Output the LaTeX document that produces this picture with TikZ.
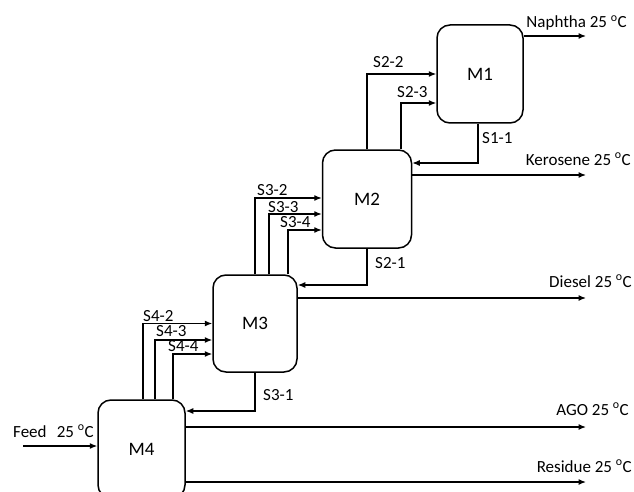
\documentclass[tikz,border=0pt]{standalone}
\usepackage{fontspec}
\setmainfont{Carlito}
\usetikzlibrary{positioning,arrows.meta,calc}
\tikzset{
  unit/.style={draw,line width=1.5pt,rounded corners=13pt,minimum width=86pt,
    minimum height=98pt,inner sep=0pt,font=\fontsize{19}{21}\selectfont},
  stream/.style={line width=1.25pt,-{Latex[length=7.5pt,width=6pt]}},
  lbl/.style={inner sep=0pt,anchor=base west,font=\fontsize{17}{19}\selectfont},
  prod/.style={inner sep=0pt,anchor=base east,font=\fontsize{17}{19}\selectfont},
}
\newcommand{\degc}{25 \textsuperscript{o}C}

\begin{document}
\begin{tikzpicture}[x=1pt,y=-1pt]
\useasboundingbox (0,0) rectangle (634,492);
\clip (0,0) rectangle (634,492);
% units
\node[unit] (M1) at (480,74) {M1};
\node[unit,minimum width=89pt] (M2) at (367,199) {M2};
\node[unit,minimum width=84pt,minimum height=97pt] (M3) at (255,323.5) {M3};
\node[unit,minimum width=87pt] (M4) at (141.5,449) {M4};
\coordinate (rgt) at (586,0);
\coordinate (feed) at (23,446);
% M1
\draw[stream] ([yshift=38pt]M1.east) coordinate (p1) -- (p1 -| rgt);
\node[prod] (lNaph) at (627,28) {Naphtha \degc};
\draw[stream] ([xshift=-2pt]M1.south) |- ([yshift=36pt]M2.east);
\node[lbl] (lS11) at (482,143) {S1-1};
% M2
\draw[stream] (M2.north) |- (M1.west);
\node[lbl] (lS22) at (373,68) {S2-2};
\draw[stream] ([xshift=34pt]M2.north) |- ([yshift=-29pt]M1.west);
\node[lbl] (lS23) at (397,98) {S2-3};
\draw[stream] ([yshift=24pt]M2.east) coordinate (p2) -- (p2 -| rgt);
\node[prod] (lKero) at (631,165) {Kerosene \degc};
\draw[stream] (M2.south) |- ([yshift=38.5pt]M3.east);
\node[lbl] (lS21) at (375,268) {S2-1};
% M3
\draw[stream] (M3.north) |- ([yshift=1pt]M2.west);
\node[lbl] (lS32) at (257,195) {S3-2};
\draw[stream] ([xshift=14pt]M3.north) |- ([yshift=-15pt]M2.west);
\node[lbl] (lS33) at (268,212) {S3-3};
\draw[stream] ([xshift=33pt]M3.north) |- ([yshift=-31pt]M2.west);
\node[lbl] (lS34) at (280,227) {S3-4};
\draw[stream] ([yshift=25.5pt]M3.east) coordinate (p3) -- (p3 -| rgt);
\node[prod] (lDies) at (632,287) {Diesel \degc};
\draw[stream] (M3.south) |- ([yshift=38pt]M4.east);
\node[lbl] (lS31) at (263,400) {S3-1};
% M4
\draw[stream] ([xshift=1.5pt]M4.north) |- (M3.west);
\node[lbl] (lS42) at (143,321) {S4-2};
\draw[stream] ([xshift=13.5pt]M4.north) |- ([yshift=-16.5pt]M3.west);
\node[lbl] (lS43) at (156,336) {S4-3};
\draw[stream] ([xshift=31.5pt]M4.north) |- ([yshift=-30.5pt]M3.west);
\node[lbl] (lS44) at (168,351) {S4-4};
\draw[stream] ([yshift=22pt]M4.east) coordinate (p4) -- (p4 -| rgt);
\node[prod] (lAGO) at (629,415) {AGO \degc};
\draw[stream] ([yshift=-33pt]M4.east) coordinate (p5) -- (p5 -| rgt);
\node[prod] (lRes) at (632,472) {Residue \degc};
% feed
\draw[stream] (feed) -- (feed -| M4.west);
\node[lbl] (lFeed) at (13,437) {Feed\hspace{0.6em}\degc};
\end{tikzpicture}
\end{document}
